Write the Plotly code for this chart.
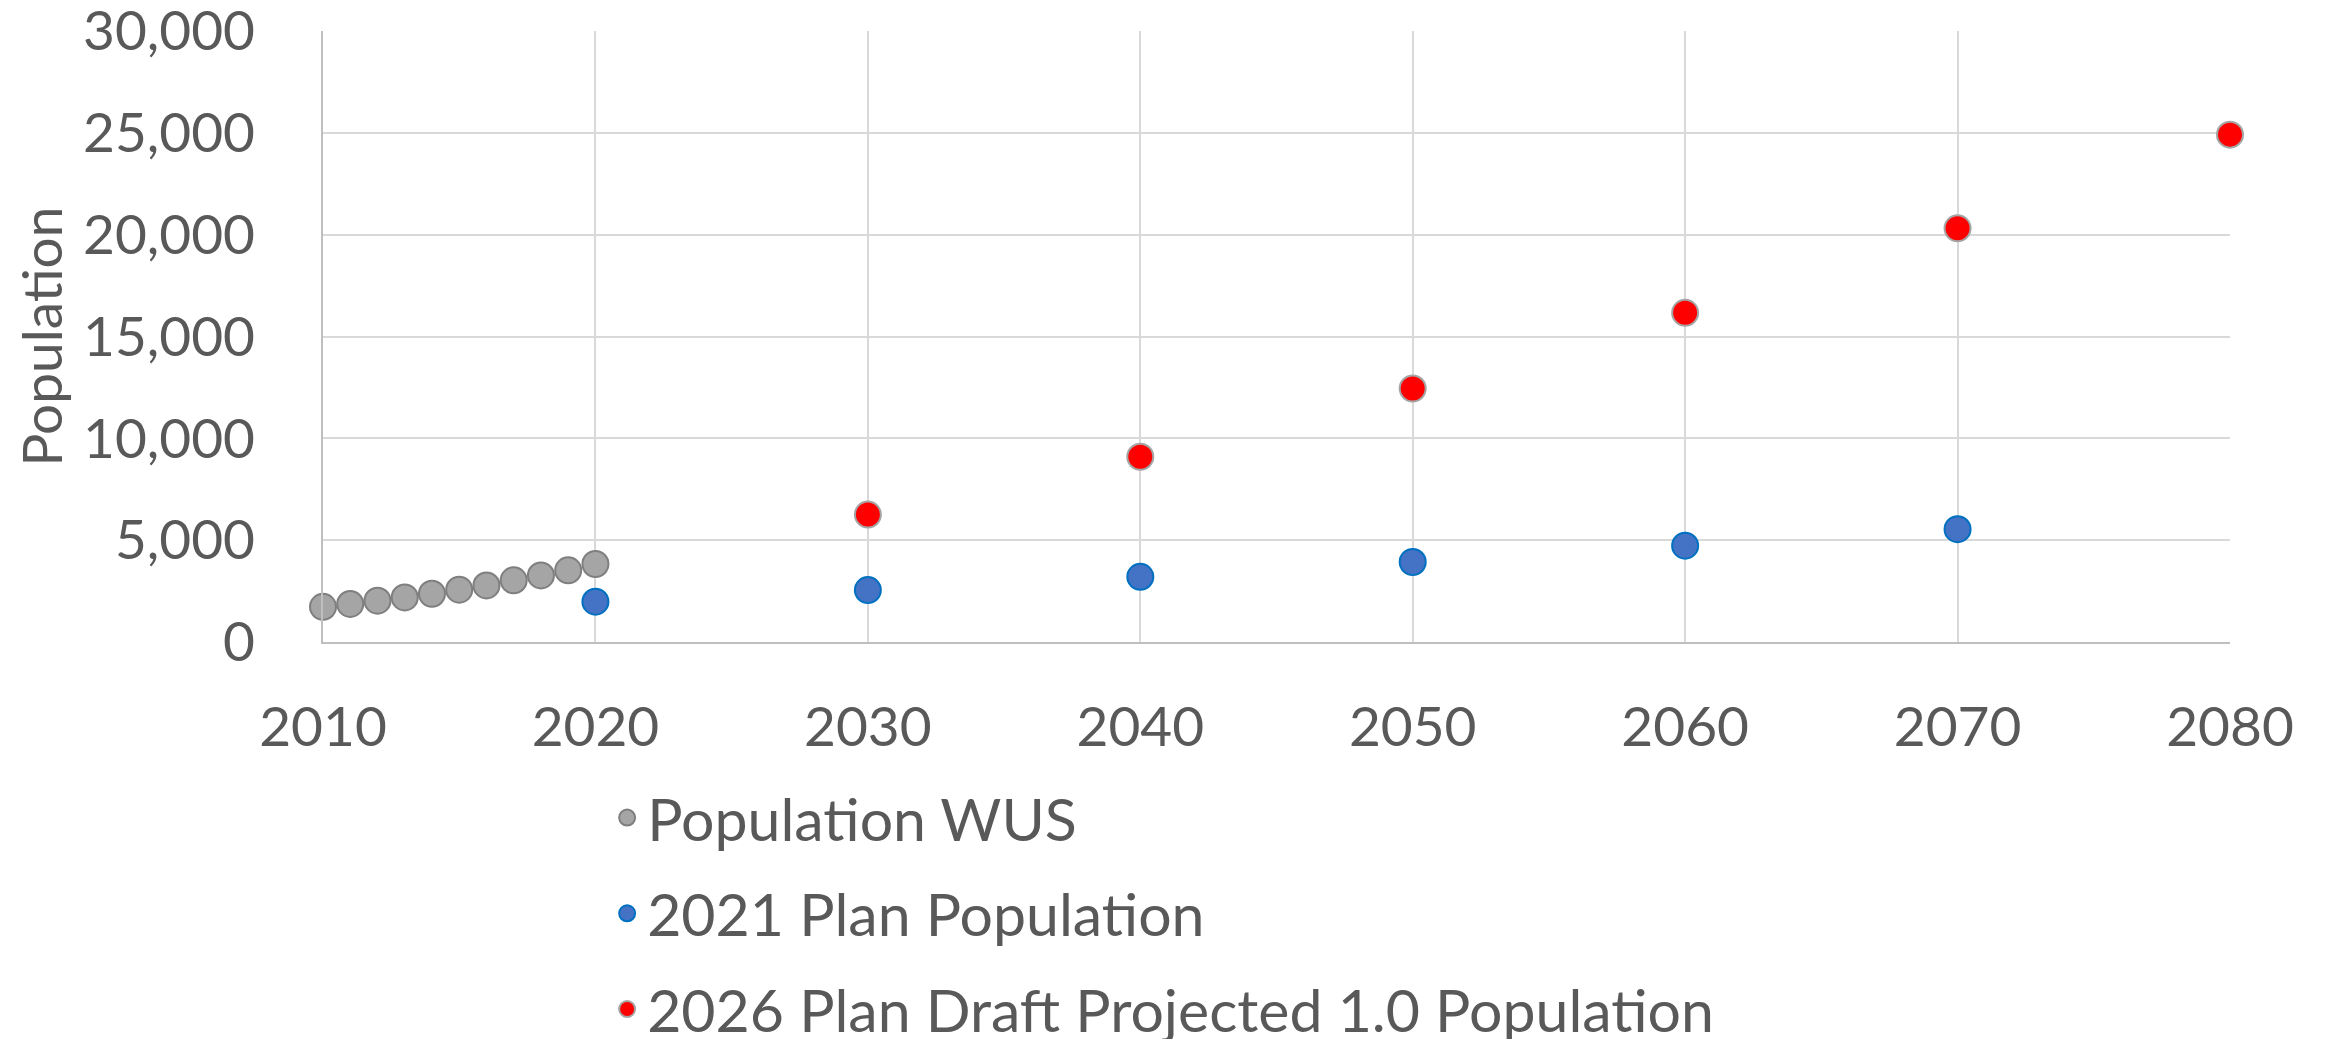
import plotly.graph_objects as go

# Population WUS (historic, annual)
wus_years = [2010, 2011, 2012, 2013, 2014, 2015, 2016, 2017, 2018, 2019, 2020]
wus_pop = [1730, 1870, 2030, 2190, 2370, 2570, 2780, 3030, 3270, 3520, 3830]

# 2021 Plan population
plan21_years = [2020, 2030, 2040, 2050, 2060, 2070]
plan21_pop = [1980, 2550, 3200, 3930, 4730, 5540]

# 2026 Plan draft projected 1.0 population
plan26_years = [2030, 2040, 2050, 2060, 2070, 2080]
plan26_pop = [6260, 9100, 12450, 16170, 20320, 24920]

FONT = "Lato"
GREY_TXT = "#595959"

fig = go.Figure()

fig.add_trace(go.Scatter(x=wus_years, y=wus_pop, mode='markers',
                         name='Population WUS', legendgroup='a', cliponaxis=False,
                         marker=dict(size=26, color='#A5A5A5',
                                     line=dict(color='#7F7F7F', width=2))))
fig.add_trace(go.Scatter(x=plan21_years, y=plan21_pop, mode='markers',
                         name='2021 Plan Population', legendgroup='b', cliponaxis=False,
                         marker=dict(size=26, color='#4472C4',
                                     line=dict(color='#0070C0', width=2))))
fig.add_trace(go.Scatter(x=plan26_years, y=plan26_pop, mode='markers',
                         name='2026 Plan Draft Projected 1.0 Population', legendgroup='c',
                         cliponaxis=False,
                         marker=dict(size=26, color='#FF0000',
                                     line=dict(color='#A5A5A5', width=2))))

# page has an 8px body margin, so the figure is offset by 8px
fig.update_layout(
    width=2310, height=1031,
    margin=dict(l=315, r=88, t=23, b=397, autoexpand=False),
    plot_bgcolor='white', paper_bgcolor='white',
    font=dict(family=FONT, size=55, color=GREY_TXT),
    showlegend=True,
    legend=dict(x=0.149, y=-0.214, xanchor='left', yanchor='top',
                orientation='v', tracegroupgap=16,
                font=dict(family=FONT, size=59, color=GREY_TXT),
                bgcolor='rgba(0,0,0,0)'),
)

fig.update_xaxes(range=[2010, 2080], dtick=10, tick0=2010,
                 showgrid=True, gridcolor='#D9D9D9', gridwidth=2,
                 showline=True, linecolor='#BFBFBF', linewidth=2,
                 zeroline=False, ticks='', ticklabelstandoff=36,
                 ticklabeloverflow='allow',
                 tickfont=dict(family=FONT, size=55, color=GREY_TXT))
fig.update_yaxes(range=[0, 30010], tickvals=[0, 5000, 10000, 15000, 20000, 25000, 30000],
                 tickformat=',d',
                 showgrid=True, gridcolor='#D9D9D9', gridwidth=2,
                 showline=True, linecolor='#BFBFBF', linewidth=2,
                 zeroline=False, ticks='', ticklabelstandoff=55,
                 ticklabeloverflow='allow',
                 tickfont=dict(family=FONT, size=55, color=GREY_TXT),
                 title=dict(text='Population', standoff=18,
                            font=dict(family=FONT, size=55, color=GREY_TXT)))

fig.write_html("out.html")
